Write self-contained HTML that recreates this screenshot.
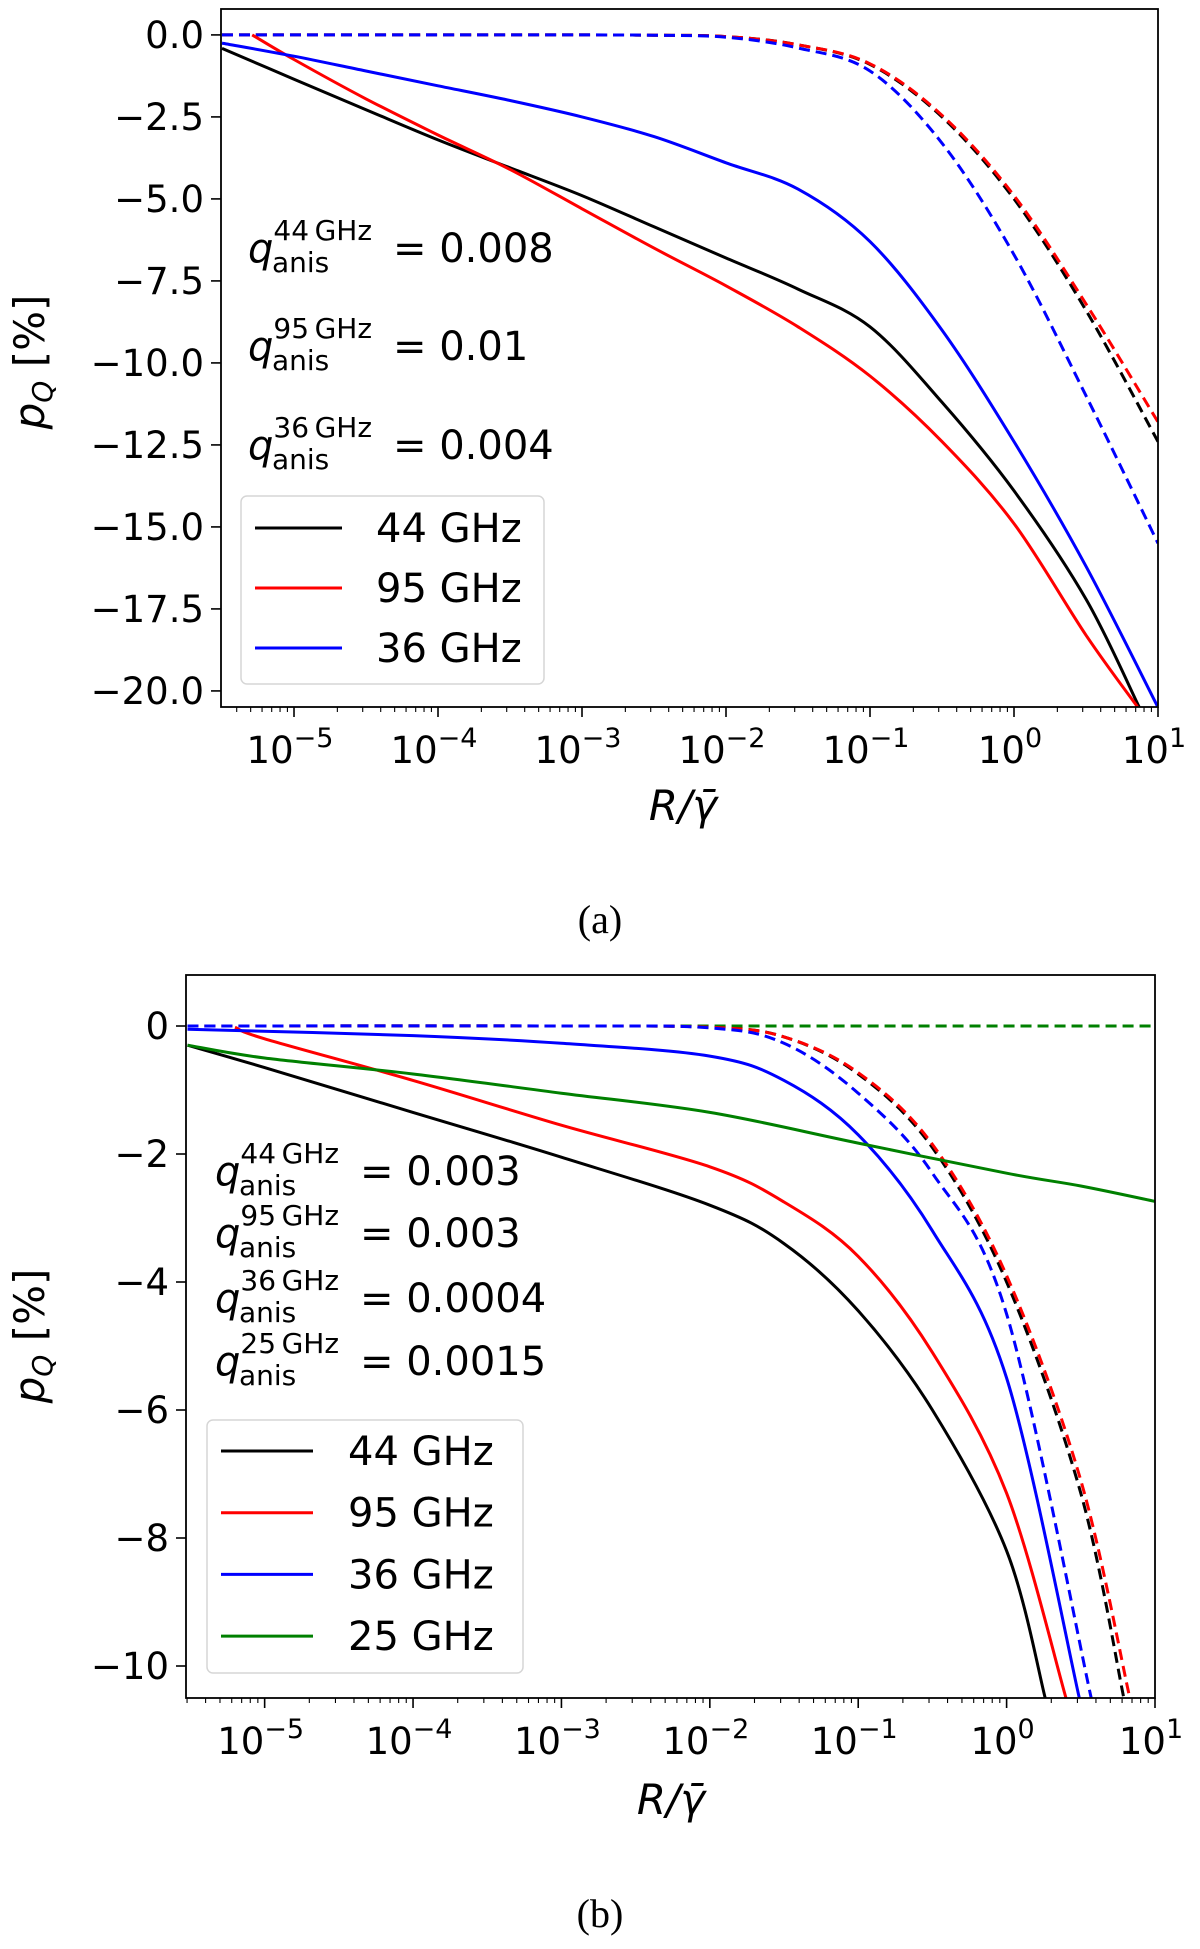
<!DOCTYPE html>
<html><head><meta charset="utf-8">
<style>
html,body{margin:0;padding:0;background:#fff;}
svg{display:block;font-family:"DejaVu Sans","Liberation Sans",sans-serif;}
</style></head>
<body>
<svg id="fig" width="1200" height="1949" viewBox="0 0 1200 1949" xmlns="http://www.w3.org/2000/svg">
<rect width="1200" height="1949" fill="#fff"/>
<text x="600" y="933" font-family="'Liberation Serif',serif" font-size="40" text-anchor="middle">(a)</text>
<text x="600" y="1927" font-family="'Liberation Serif',serif" font-size="40" text-anchor="middle">(b)</text>
</svg>
<script>
// ---------- Panel (a) data (x = log10(R/gamma), y = p_Q %) ----------
const aTicksY = [0, -2.5, -5, -7.5, -10, -12.5, -15, -17.5, -20];
const aTickLabelsY = ["0.0","\u22122.5","\u22125.0","\u22127.5","\u221210.0","\u221212.5","\u221215.0","\u221217.5","\u221220.0"];
const aBlackX = [-5.5,-5,-4.5,-4,-3.5,-3,-2.5,-2,-1.5,-1,-0.5,0,0.5,0.87];
const aBlackY = [-0.41,-1.35,-2.28,-3.2,-4.05,-4.9,-5.85,-6.8,-7.75,-8.9,-11.2,-13.9,-17.2,-20.5];
const aRedX = [-5.29,-5,-4.5,-4,-3.5,-3,-2.5,-2,-1.5,-1,-0.5,0,0.5,0.86];
const aRedY = [0,-0.75,-1.95,-3.05,-4.1,-5.3,-6.5,-7.65,-8.9,-10.4,-12.4,-14.9,-18.3,-20.5];
const aBlueX = [-5.5,-5,-4.5,-4,-3.5,-3,-2.5,-2,-1.5,-1,-0.5,0,0.5,1];
const aBlueY = [-0.25,-0.65,-1.1,-1.55,-2.0,-2.5,-3.1,-3.9,-4.7,-6.3,-9.0,-12.4,-16.2,-20.5];
const aDashX = [-5.5,-4,-3,-2.5,-2,-1.5,-1,-0.5,0,0.5,1];
const aBlackDashY = [0,0,0,-0.01,-0.05,-0.3,-0.9,-2.5,-5.0,-8.4,-12.4];
const aRedDashY = [0,0,0,-0.01,-0.05,-0.3,-0.88,-2.45,-4.9,-8.2,-11.8];
const aBlueDashY = [0,0,0,-0.01,-0.07,-0.4,-1.1,-3.3,-6.7,-11.0,-15.5];

// ---------- Panel (b) data ----------
const bTicksY = [0,-2,-4,-6,-8,-10];
const bTickLabelsY = ["0","\u22122","\u22124","\u22126","\u22128","\u221210"];
const bBlackX = [-5.52,-5,-4,-3,-2,-1.5,-1,-0.5,0,0.26];
const bBlackY = [-0.3,-0.65,-1.35,-2.05,-2.8,-3.4,-4.45,-6.0,-8.2,-10.5];
const bRedX = [-5.2,-5,-4,-3,-2,-1.5,-1,-0.5,0,0.4];
const bRedY = [-0.02,-0.2,-0.85,-1.55,-2.2,-2.75,-3.6,-5.1,-7.3,-10.5];
const bBlueX = [-5.52,-4,-3,-2,-1.5,-1,-0.5,0,0.49];
const bBlueY = [-0.05,-0.15,-0.27,-0.47,-0.85,-1.7,-3.2,-5.5,-10.5];
const bGreenX = [-5.52,-5,-4,-3,-2,-1,0,0.5,1];
const bGreenY = [-0.3,-0.5,-0.75,-1.05,-1.35,-1.83,-2.3,-2.5,-2.74];
const bDashX = [-5.52,-3,-2,-1.5,-1,-0.5,0,0.5,0.79];
const bBlackDashY = [0,0,-0.02,-0.17,-0.75,-1.9,-4.0,-7.3,-10.5];
const bRedDashX = [-5.52,-3,-2,-1.5,-1,-0.5,0,0.5,0.83];
const bRedDashY = [0,0,-0.02,-0.17,-0.73,-1.85,-3.9,-7.1,-10.5];
const bBlueDashX = [-5.52,-3,-2,-1.5,-1,-0.5,0,0.57];
const bBlueDashY = [0,0,-0.03,-0.27,-1.05,-2.3,-4.5,-10.5];
const bGreenDashX = [-5.52,1];
const bGreenDashY = [0,0];

const xTickExp = [-5,-4,-3,-2,-1,0,1];
const NS = "http://www.w3.org/2000/svg";
const svg = document.getElementById("fig");

function mk(tag, attrs, parent){
  const e = document.createElementNS(NS, tag);
  for (const k in attrs) e.setAttribute(k, attrs[k]);
  (parent||svg).appendChild(e);
  return e;
}
function pathFrom(xs, ys, sx, sy){
  const p = xs.map((x,i)=>[sx(x), sy(ys[i])]);
  let d = "M"+p[0][0].toFixed(1)+","+p[0][1].toFixed(1);
  for (let i=0;i<p.length-1;i++){
    const p0=p[i-1]||p[i], p1=p[i], p2=p[i+1], p3=p[i+2]||p2;
    const c1=[p1[0]+(p2[0]-p0[0])/6, p1[1]+(p2[1]-p0[1])/6];
    const c2=[p2[0]-(p3[0]-p1[0])/6, p2[1]-(p3[1]-p1[1])/6];
    d+=" C"+c1[0].toFixed(1)+","+c1[1].toFixed(1)+" "+c2[0].toFixed(1)+","+c2[1].toFixed(1)+" "+p2[0].toFixed(1)+","+p2[1].toFixed(1);
  }
  return d;
}

function panel(cfg){
  const g = mk("g", {});
  
  
  const L=cfg.L,R=cfg.R,T=cfg.T,B=cfg.B;
  const sx = v => L + (v - cfg.xmin)/(cfg.xmax - cfg.xmin)*(R-L);
  const sy = v => T + (cfg.ymax - v)/(cfg.ymax - cfg.ymin)*(B-T);
  const clip = mk("clipPath", {id:cfg.name+"-clip"}, g);
  mk("rect", {x:L,y:T,width:R-L,height:B-T}, clip);
  const plot = mk("g", {"clip-path":"url(#"+cfg.name+"-clip)"}, g);
  
  
  cfg.series.forEach(s=>{
    const p = mk("path", {d:pathFrom(s.x,s.y,sx,sy), fill:"none", stroke:s.c, "stroke-width":3, "stroke-dasharray":s.dash?"11,6":"none"}, plot);
    
    
  });
  const frame = mk("rect", {x:L,y:T,width:R-L,height:B-T,fill:"none",stroke:"#000","stroke-width":1.8}, g);
  
  
  cfg.yt.forEach((v,i)=>{
    const y=sy(v);
    mk("line",{x1:L-10,x2:L,y1:y,y2:y,stroke:"#000","stroke-width":1.6},g);
    const t = mk("text",{x:L-17,y:y+13,"font-size":37,"text-anchor":"end"},g);
    t.textContent = cfg.ytl[i];
    
    
  });
  for (let e=-6;e<=1;e++){
    for (let m=1;m<10;m++){
      const v = e + Math.log10(m);
      if (v < cfg.xmin || v > cfg.xmax+1e-9) continue;
      const x = sx(v);
      mk("line",{x1:x,x2:x,y1:B,y2:B+(m===1?10:5),stroke:"#000","stroke-width":m===1?1.6:1.1},g);
    }
  }
  xTickExp.forEach(e=>{
    const x=sx(e);
    const t = mk("text",{x:x-4,y:B+56,"font-size":37,"text-anchor":"middle"},g);
    
    
    const a = mk("tspan",{},t); a.textContent="10";
    const b = mk("tspan",{dy:-16,"font-size":27}, t); b.textContent = e<0 ? "\u2212"+(-e) : String(e);
  });
  const xl = mk("text",{x:cfg.xlx,y:cfg.xly,"font-size":42,"text-anchor":"middle","font-style":"italic"},g);
  
  
  xl.textContent = "R/\u03B3\u0304";
  const yl = mk("text",{x:0,y:0,"font-size":42,"text-anchor":"middle",transform:"translate("+(cfg.ylx)+","+cfg.yly+") rotate(-90)"},g);
  
  
  const y1 = mk("tspan",{"font-style":"italic"},yl); y1.textContent="p";
  const y2 = mk("tspan",{"font-style":"italic","font-size":28,dy:8},yl); y2.textContent="Q";
  const y3 = mk("tspan",{dy:-8},yl); y3.textContent=" [%]";
  cfg.ann.forEach(a=>{
    const t = mk("text",{x:cfg.annX,y:a.y,"font-size":40},g);
    
    
    const q = mk("tspan",{"font-style":"italic"},t); q.textContent="q";
    const sup = mk("tspan",{"font-size":28,dy:-22},t); sup.textContent=a.f+"\u2009GHz";
    const sub = mk("tspan",{"font-size":28,x:cfg.annX+24,dy:32},t); sub.textContent="anis";
    const eq = mk("tspan",{x:cfg.annX+145,dy:-10},t); eq.textContent="= "+a.v;
  });
  const lg = mk("g",{},g);
  
  
  mk("rect",{x:cfg.lg.x,y:cfg.lg.y,width:cfg.lg.w,height:cfg.lg.h,rx:6,fill:"#fff","fill-opacity":0.85,stroke:"#d6d6d6","stroke-width":1.5},lg);
  cfg.lg.items.forEach((it,i)=>{
    const y = cfg.lg.y0 + i*cfg.lg.dy;
    const ln = mk("line",{x1:cfg.lg.lx1,x2:cfg.lg.lx2,y1:y,y2:y,stroke:it.c,"stroke-width":3},lg);
    
    
    const t = mk("text",{x:cfg.lg.tx,y:y+14,"font-size":40},lg);
    
    
    t.textContent = it.t;
  });
}

panel({
  name:"panel-a", L:221,R:1158,T:9,B:707,
  xmin:-5.507,xmax:1,ymax:0.79,ymin:-20.49,
  yt:aTicksY, ytl:aTickLabelsY,
  xlx:683,xly:820, ylx:44,yly:362,
  annX:248,
  ann:[{f:"44",v:"0.008",y:262},{f:"95",v:"0.01",y:360},{f:"36",v:"0.004",y:459}],
  series:[
    {n:"line-44ghz-dashed",x:aDashX,y:aBlackDashY,c:"#000",dash:1},
    {n:"line-95ghz-dashed",x:aDashX,y:aRedDashY,c:"#ff0000",dash:1},
    {n:"line-36ghz-dashed",x:aDashX,y:aBlueDashY,c:"#0000ff",dash:1},
    {n:"line-44ghz",x:aBlackX,y:aBlackY,c:"#000"},
    {n:"line-95ghz",x:aRedX,y:aRedY,c:"#ff0000"},
    {n:"line-36ghz",x:aBlueX,y:aBlueY,c:"#0000ff"}
  ],
  lg:{x:241,y:496,w:303,h:188,y0:528,dy:60,lx1:255,lx2:342,tx:376,
      items:[{c:"#000",t:"44 GHz"},{c:"#ff0000",t:"95 GHz"},{c:"#0000ff",t:"36 GHz"}]}
});

panel({
  name:"panel-b", L:186,R:1155,T:975,B:1698,
  xmin:-5.53,xmax:1,ymax:0.797,ymin:-10.5,
  yt:bTicksY, ytl:bTickLabelsY,
  xlx:671,xly:1814, ylx:44,yly:1336,
  annX:215,
  ann:[{f:"44",v:"0.003",y:1185},{f:"95",v:"0.003",y:1247},{f:"36",v:"0.0004",y:1312},{f:"25",v:"0.0015",y:1375}],
  series:[
    {n:"line-25ghz-dashed",x:bGreenDashX,y:bGreenDashY,c:"#008000",dash:1},
    {n:"line-44ghz-dashed",x:bDashX,y:bBlackDashY,c:"#000",dash:1},
    {n:"line-95ghz-dashed",x:bRedDashX,y:bRedDashY,c:"#ff0000",dash:1},
    {n:"line-36ghz-dashed",x:bBlueDashX,y:bBlueDashY,c:"#0000ff",dash:1},
    {n:"line-44ghz",x:bBlackX,y:bBlackY,c:"#000"},
    {n:"line-95ghz",x:bRedX,y:bRedY,c:"#ff0000"},
    {n:"line-36ghz",x:bBlueX,y:bBlueY,c:"#0000ff"},
    {n:"line-25ghz",x:bGreenX,y:bGreenY,c:"#008000"}
  ],
  lg:{x:207,y:1420,w:316,h:253,y0:1451,dy:61.7,lx1:221,lx2:313,tx:348,
      items:[{c:"#000",t:"44 GHz"},{c:"#ff0000",t:"95 GHz"},{c:"#0000ff",t:"36 GHz"},{c:"#008000",t:"25 GHz"}]}
});
</script>
</body></html>
